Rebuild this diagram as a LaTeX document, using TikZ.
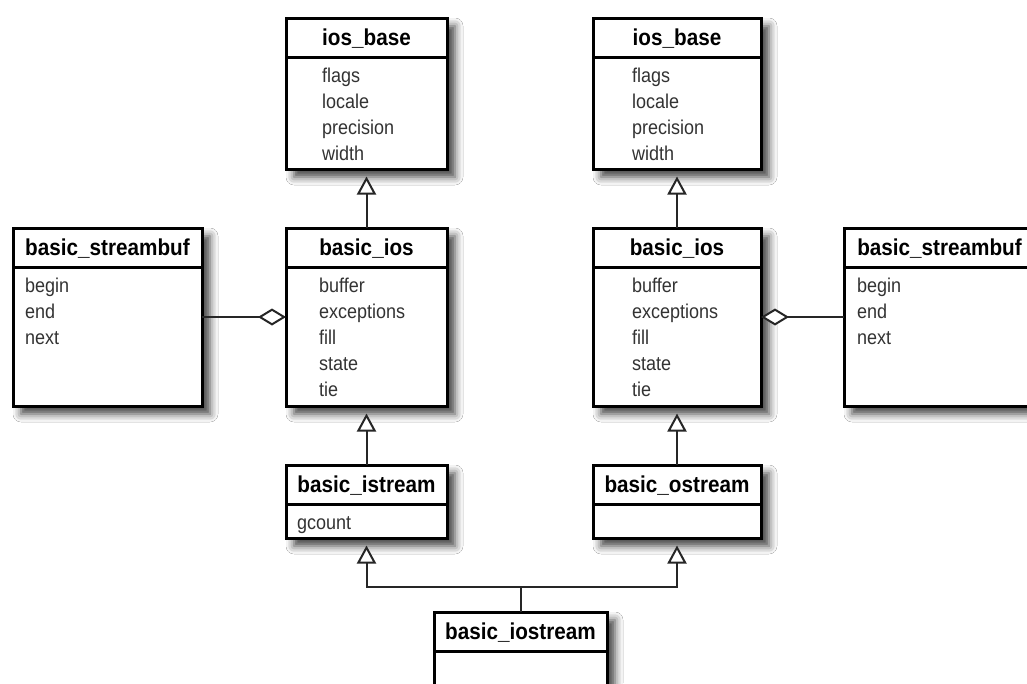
\documentclass[tikz,border=0pt]{standalone}
\usepackage{fontspec}
\setmainfont{Liberation Sans}[FakeStretch=0.9]
\usetikzlibrary{arrows.meta,shadows.blur}

\tikzset{
  classframe/.style={draw=black, line width=3pt, fill=white, rectangle,
    inner sep=0pt, outer sep=0pt,
    blur shadow={shadow xshift=8pt, shadow yshift=-8pt,
      shadow blur radius=8pt, shadow opacity=75}},
  sepline/.style={draw=black, line width=3pt},
  titletext/.style={inner sep=0pt, anchor=base,
    font=\fontsize{23}{27}\selectfont\bfseries},
  attrtext/.style={inner sep=0pt, anchor=base west, text=black!80,
    font=\fontsize{20}{26}\selectfont},
  link/.style={draw=black!85, line width=2pt},
  inherit/.style={link, -{Triangle[length=18pt,width=19pt,fill=white]},
    shorten >=7.5pt},
  aggregate/.style={link, -{Diamond[length=28pt,width=17pt,fill=white]}},
}

% UML class: name, left, top, width, height, title
\newcommand\classbox[6]{%
  \node[classframe, minimum width=#4pt, minimum height=#5pt,
    anchor=north west] (#1) at (#2,#3) {};
  \draw[sepline] ([yshift=-39.5pt]#1.north west) -- ([yshift=-39.5pt]#1.north east);
  \node[titletext] (#1-title) at ([yshift=-27pt]#1.north) {#6};
}
% attribute lines: name, x, box top, list
\newcommand\classattrs[4]{%
  \foreach \a [count=\i] in {#4}
    \node[attrtext] (#1-attr\i) at ({#2},{#3+64+26*(\i-1)}) {\a};
}

\begin{document}
\begin{tikzpicture}[x=1pt, y=-1pt]
  \useasboundingbox (0,0) rectangle (1027,683);
  \clip (0,0) rectangle (1027,683);
  \fill[white] (0,0) rectangle (1027,683);

  % left hierarchy
  \classbox{lbase}{286}{18}{161}{151}{ios\_base}
  \classattrs{lbase}{322}{18}{flags,locale,precision,width}
  \classbox{lbios}{286}{228}{161}{178}{basic\_ios}
  \classattrs{lbios}{319}{228}{buffer,exceptions,fill,state,tie}
  \classbox{lsb}{13}{228}{189}{178}{basic\_streambuf}
  \classattrs{lsb}{25}{228}{begin,end,next}
  \classbox{listr}{286}{465}{161}{73}{basic\_istream}
  \classattrs{listr}{297}{465}{gcount}

  % right hierarchy
  \classbox{rbase}{593}{18}{168}{151}{ios\_base}
  \classattrs{rbase}{632}{18}{flags,locale,precision,width}
  \classbox{rbios}{593}{228}{168}{178}{basic\_ios}
  \classattrs{rbios}{632}{228}{buffer,exceptions,fill,state,tie}
  \classbox{rsb}{844}{228}{191}{178}{basic\_streambuf}
  \classattrs{rsb}{857}{228}{begin,end,next}
  \classbox{rostr}{593}{465}{168}{73}{basic\_ostream}

  % combined stream
  \classbox{iostr}{434}{612}{173}{120}{basic\_iostream}

  % generalisations
  \draw[inherit] (lbios.north) -- (lbase.south);
  \draw[inherit] (rbios.north) -- (rbase.south);
  \draw[inherit] (listr.north) -- (lbios.south);
  \draw[inherit] (rostr.north) -- (rbios.south);
  \coordinate (join) at ([yshift=25pt]iostr.north);
  \draw[link] (iostr.north) -- (join);
  \draw[inherit] (join) -| (listr.south);
  \draw[inherit] (join) -| (rostr.south);

  % aggregations
  \draw[aggregate] (lsb.east) -- (lbios.west);
  \draw[aggregate] (rsb.west) -- (rbios.east);
\end{tikzpicture}
\end{document}
